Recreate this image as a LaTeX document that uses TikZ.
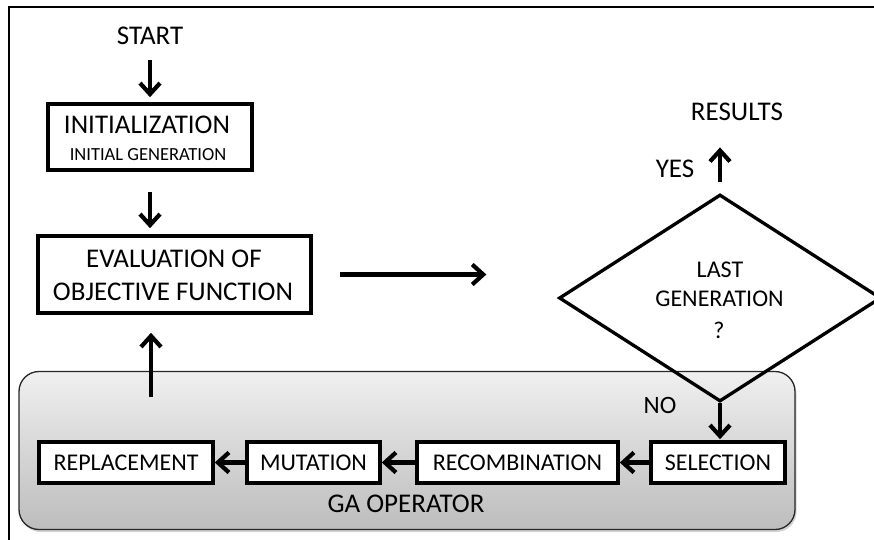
\documentclass[tikz,border=0pt]{standalone}
\usepackage{fontspec}
\setmainfont{Carlito}
\usetikzlibrary{arrows.meta,shapes.geometric,shadows}
\begin{document}
\begin{tikzpicture}[x=1pt,y=-1pt,
  box/.style={draw, line width=3.6pt, fill=white, inner sep=0pt},
  arr/.style={line width=4.2pt, -{Straight Barb[length=11pt,width=20pt]}},
  big/.style={font=\fontsize{27}{32}\selectfont, inner sep=0pt},
  mid/.style={font=\fontsize{24}{28}\selectfont, inner sep=0pt},
  small/.style={font=\fontsize{18.5}{22}\selectfont, inner sep=0pt},
  gabox/.style={draw=black!85, line width=1.3pt, rounded corners=20pt,
    top color=black!6, bottom color=black!26,
    drop shadow={opacity=0.35, shadow xshift=1.5pt, shadow yshift=-2.5pt}}
]
\useasboundingbox (0,0) rectangle (874,539);
% frame
\draw[line width=2.5pt] (9,560) -- (9,7) -- (890,7);

% GA operator region
\node[gabox, minimum width=776pt, minimum height=158pt, inner sep=0pt] (ga) at (407,450.5) {};
\node[big, anchor=base] (gat) at (406,512) {GA OPERATOR};

% bottom boxes
\node[box, mid, minimum width=174pt, minimum height=41pt] (rep) at (126,462.5) {REPLACEMENT};
\node[box, mid, minimum width=133pt, minimum height=41pt] (mut) at (313.5,462.5) {MUTATION};
\node[box, mid, minimum width=201pt, minimum height=41pt] (rec) at (517.5,462.5) {RECOMBINATION};
\node[box, mid, minimum width=134pt, minimum height=41pt] (sel) at (718,462.5) {SELECTION};

% top boxes
\node[box, minimum width=204pt, minimum height=66pt] (init) at (150,137) {};
\node[box, minimum width=273pt, minimum height=77pt] (eval) at (174.5,274.5) {};

% diamond
\node[draw, diamond, line width=3.3pt, minimum width=322pt, minimum height=207pt, inner sep=0pt] (dia) at (720,298) {};

% texts
\node[big, anchor=base] (start) at (150,44.7) {START};
\node[big, anchor=base] (initt) at (147,133) {INITIALIZATION};
\node[small, anchor=base] (inits) at (148,160) {INITIAL GENERATION};
\node[big, anchor=base] (evt1) at (174,267) {EVALUATION OF};
\node[big, anchor=base] (evt2) at (173,300) {OBJECTIVE FUNCTION};
\node[big, anchor=base] (results) at (737,120) {RESULTS};
\node[big, anchor=base] (yes) at (675,177) {YES};
\node[mid, anchor=base] (last) at (720,277) {LAST};
\node[mid, anchor=base] (gen) at (719.5,306) {GENERATION};
\node[mid, anchor=base] (q) at (719,338) {?};
\node[font=\fontsize{25}{30}\selectfont, inner sep=0pt, anchor=base] (no) at (660,413) {NO};

% arrows
\draw[arr, shorten <=15pt, shorten >=5pt] (start.south) -- (init.north);
\draw[arr, shorten <=20pt, shorten >=6pt] (init.south) -- (init.south |- eval.north);
\draw[arr, shorten <=27pt, shorten >=71pt] (eval.east) -- (eval.east -| dia.west);
\draw[arr, shorten <=11pt, shorten >=27pt] (dia.north) -- (dia.north |- results.south);
\draw[arr, shorten >=1pt] (dia.south) -- (dia.south |- sel.north);
\draw[arr] (sel.west) -- (rec.east);
\draw[arr] (rec.west) -- (mut.east);
\draw[arr] (mut.west) -- (rep.east);
\coordinate (up0) at (151,397);
\draw[arr, shorten >=18pt] (up0) -- (up0 |- eval.south);
\end{tikzpicture}
\end{document}
